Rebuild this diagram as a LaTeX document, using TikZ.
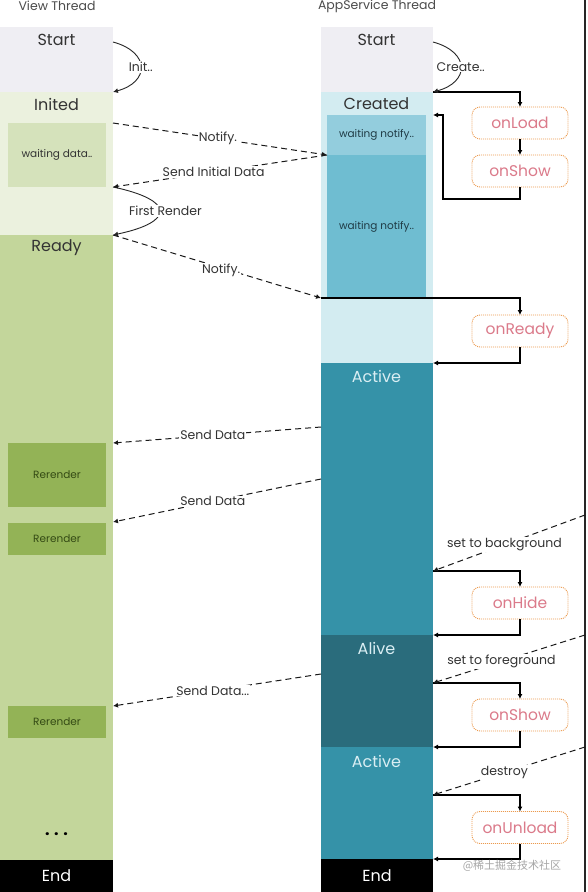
\documentclass[tikz,border=0pt]{standalone}
\usepackage{fontspec}
\setmainfont{Poppins}
\newfontfamily\cjkfont{Noto Sans CJK SC}
\usetikzlibrary{arrows.meta,calc}
\definecolor{cStart}{HTML}{EFEEF3}
\definecolor{cInited}{HTML}{EBF1DE}
\definecolor{cWaitD}{HTML}{D5E2BB}
\definecolor{cReady}{HTML}{C3D69B}
\definecolor{cRer}{HTML}{93B356}
\definecolor{cRerTxt}{HTML}{344A14}
\definecolor{cCreated}{HTML}{D3ECF1}
\definecolor{cWNa}{HTML}{93CDDD}
\definecolor{cWNb}{HTML}{6FBDD1}
\definecolor{cActive}{HTML}{3592A8}
\definecolor{cAlive}{HTML}{2A6C7C}
\definecolor{cActTxt}{HTML}{DAEEF3}
\definecolor{cbOrange}{HTML}{EC9A4E}
\definecolor{cbPink}{HTML}{DB7A8A}
\definecolor{txtdark}{HTML}{333333}
\definecolor{wnTxt}{HTML}{1F3B45}
\begin{document}
\begin{tikzpicture}[x=1pt,y=-1pt,
  sec/.style={draw=none,inner sep=0pt,outer sep=0pt,anchor=north west},
  stxt/.style={font=\fontsize{16}{16}\selectfont,text=txtdark,inner sep=0pt},
  boxtxt/.style={font=\fontsize{10.5}{11}\selectfont},
  ttl/.style={font=\fontsize{12.5}{13}\selectfont,text=black!70,inner sep=0pt},
  lbl/.style={font=\fontsize{12.5}{13}\selectfont,text=txtdark,fill=white,inner sep=1pt},
  cb/.style={draw=cbOrange,line width=0.9pt,dash pattern=on 1pt off 1pt,rounded corners=8pt,
    minimum width=96pt,minimum height=32pt,text=cbPink,font=\fontsize{15.5}{16}\selectfont,
    inner sep=0pt,outer sep=0pt,fill=white},
  flow/.style={draw=black,line width=1.2pt,-{Latex[length=5pt,width=5pt]}},
  msg/.style={draw=black!90,line width=1pt,dash pattern=on 6pt off 4pt,-{Latex[length=5pt,width=5pt]}},
  curv/.style={draw=black!85,line width=0.9pt,-{Latex[length=5pt,width=5pt]}},
]
\useasboundingbox (0,0) rectangle (587,892);
\fill[white] (0,0) rectangle (587,892);

% titles
\node[ttl] (t1) at (57,6) {View Thread};
\node[ttl] (t2) at (377,6) {AppService Thread};

% ---------- View thread column ----------
\node[sec,fill=cStart,minimum width=113pt,minimum height=65pt] (vS) at (0,27) {};
\node[sec,fill=cInited,minimum width=113pt,minimum height=143pt] (vI) at (0,92) {};
\node[sec,fill=cWaitD,minimum width=98pt,minimum height=64pt,boxtxt,text=txtdark] (vW) at (8,123) {waiting data..};
\node[sec,fill=cReady,minimum width=113pt,minimum height=625pt] (vR) at (0,235) {};
\node[sec,fill=cRer,minimum width=98pt,minimum height=64pt,boxtxt,text=cRerTxt] (r1) at (8,443) {Rerender};
\node[sec,fill=cRer,minimum width=98pt,minimum height=32pt,boxtxt,text=cRerTxt] (r2) at (8,523) {Rerender};
\node[sec,fill=cRer,minimum width=98pt,minimum height=32pt,boxtxt,text=cRerTxt] (r3) at (8,706) {Rerender};
\node[sec,fill=black,minimum width=113pt,minimum height=32pt,text=white,font=\fontsize{16}{16}\selectfont] (vE) at (0,860) {End};

\node[stxt] (tvS) at (56.5,40) {Start};
\node[stxt] (tvI) at (56.5,104) {Inited};
\node[stxt] (tvR) at (56.5,248) {Ready};
\node[stxt,text=black,font=\fontsize{16}{16}\bfseries] (dots) at (56.5,834) {. . .};

% ---------- AppService thread column ----------
\node[sec,fill=cStart,minimum width=112pt,minimum height=65pt] (aS) at (321,27) {};
\node[sec,fill=cCreated,minimum width=112pt,minimum height=271pt] (aC) at (321,92) {};
\node[sec,fill=cWNa,minimum width=99pt,minimum height=40pt,boxtxt,text=wnTxt] (aW1) at (327,115) {waiting notify..};
\node[sec,fill=cWNb,minimum width=99pt,minimum height=143pt,boxtxt,text=wnTxt] (aW2) at (327,155) {waiting notify..};
\node[sec,fill=cActive,minimum width=112pt,minimum height=272pt] (aA) at (321,363) {};
\node[sec,fill=cAlive,minimum width=112pt,minimum height=112pt] (aL) at (321,635) {};
\node[sec,fill=cActive,minimum width=112pt,minimum height=112pt] (aA2) at (321,747) {};
\node[sec,fill=black,minimum width=112pt,minimum height=33pt,text=white,font=\fontsize{16}{16}\selectfont] (aE) at (321,859) {End};

\node[stxt] (taS) at (376.5,40) {Start};
\node[stxt,text=black!80] (taC) at (376.5,104) {Created};
\node[stxt,text=cActTxt] (taA) at (376.5,376) {Active};
\node[stxt,text=cActTxt] (taL) at (376.5,648) {Alive};
\node[stxt,text=cActTxt] (taA2) at (376.5,761) {Active};

% right border line
\draw[line width=1.5pt,black!85] (585,0) -- (585,892);
\coordinate (e1) at (585,515);
\coordinate (e2) at (585,635);
\coordinate (e3) at (585,747);

% ---------- callbacks ----------
\node[cb] (cLoad) at (520,123) {onLoad};
\node[cb] (cShow) at (520,171) {onShow};
\node[cb] (cReady) at (520,331) {onReady};
\node[cb] (cHide) at (520,603) {onHide};
\node[cb] (cShowB) at (520,715) {onShow};
\node[cb] (cUnload) at (520,827.5) {onUnload};

% ---------- coordinates on column edges ----------
\coordinate (ret1) at (443,199);
\coordinate (hA) at (433,571);
\coordinate (hB) at (433,683);
\coordinate (hC) at (433,795);
\coordinate (vN1) at (113,123);
\coordinate (vN2) at (113,187);
\coordinate (aN) at (321,298);
\coordinate (sd1a) at (321,427);
\coordinate (sd1b) at (113,443);
\coordinate (sd2a) at (321,479);
\coordinate (sd2b) at (113,522);
\coordinate (sd3a) at (321,674);
\coordinate (sd3b) at (113,706);
\coordinate (vI0) at (113,42);
\coordinate (aI0) at (433,42);

% ---------- solid flows ----------
\draw[flow] (aC.north east) -| (cLoad.north);
\draw[flow] (cLoad.south) -- (cShow.north);
\draw[flow] (cShow.south) -- (cShow.south |- ret1) -- (ret1) -- (ret1 |- aW1.north) -- (aC.east |- aW1.north);
\draw[flow] (aN) -| (cReady.north);
\draw[flow] (cReady.south) |- (aA.north east);
\draw[flow] (hA) -| (cHide.north);
\draw[flow] (cHide.south) |- (aL.north east);
\draw[flow] (hB) -| (cShowB.north);
\draw[flow] (cShowB.south) |- (aA2.north east);
\draw[flow] (hC) -| (cUnload.north);
\draw[flow] (cUnload.south) |- (aE.north east);

% ---------- curved self arrows ----------
\draw[curv] (vI0) .. controls (150,52) and (150,82) .. node[lbl] {Init..} (vI.north east);
\draw[curv] (aI0) .. controls (470,52) and (470,82) .. node[lbl] {Create..} (aC.north east);
\draw[curv] (vN2) .. controls (175,200) and (175,222) .. node[lbl,xshift=6pt] {First Render} (vR.north east);

% ---------- dashed messages ----------
\draw[msg] (vN1) -- node[lbl,pos=0.49] {Notify.} (aW1.south west);
\draw[msg] (aW1.south west) -- node[lbl,pos=0.53] {Send Initial Data} (vN2);
\draw[msg] (vR.north east) -- node[lbl,pos=0.52,yshift=-3pt] {Notify.} (aN);
\draw[msg] (sd1a) -- node[lbl,pos=0.52] {Send Data} (sd1b);
\draw[msg] (sd2a) -- node[lbl,pos=0.52] {Send Data} (sd2b);
\draw[msg] (sd3a) -- node[lbl,pos=0.52] {Send Data...} (sd3b);
\draw[msg] (e1) -- node[lbl,pos=0.53] {set to background} (hA);
\draw[msg] (e2) -- node[lbl,pos=0.55] {set to foreground} (hB);
\draw[msg] (e3) -- node[lbl,pos=0.53] {destroy} (hC);

% watermark
\node[font=\cjkfont\fontsize{11}{11}\selectfont,text=black!35,inner sep=0pt] (wm) at (512,866) {@稀土掘金技术社区};
\end{tikzpicture}
\end{document}
